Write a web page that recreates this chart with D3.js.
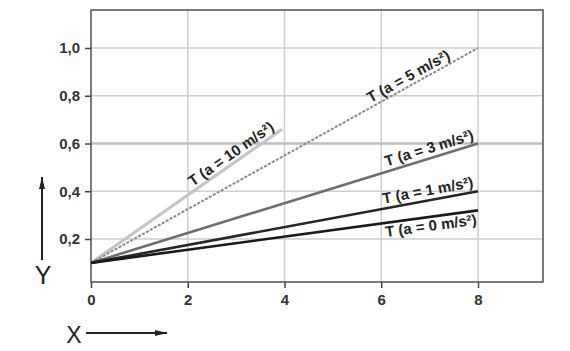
<!DOCTYPE html>
<html>
<head>
<meta charset="utf-8">
<script src="https://cdn.jsdelivr.net/npm/d3@7"></script>
<style>
  body { margin: 0; background: #fff; }
  text { font-family: "Liberation Sans", Arial, sans-serif; }
</style>
</head>
<body>
<div id="chart"></div>
<script>
var width = 570, height = 351;

// data
var labels = ["T (a = 10 m/s²)", "T (a = 5 m/s²)", "T (a = 3 m/s²)", "T (a = 1 m/s²)", "T (a = 0 m/s²)"];
var startX = [0, 0, 0, 0, 0];
var startY = [0.1, 0.1, 0.1, 0.1, 0.1];
var endX = [3.95, 8, 8, 8, 8];
var endY = [0.66, 1.0, 0.6, 0.4, 0.32];
var xTicks = [0, 2, 4, 6, 8];
var yTicks = [0.2, 0.4, 0.6, 0.8, 1.0];

var colors = ["#c4c4c4", "#8a8a8a", "#6e6e6e", "#262626", "#1a1a1a"];
var widths = [3, 2, 2.6, 2.6, 2.6];
var dashes = [null, "3,1.5", null, null, null];
var labelAt = [3.0, 6.65, 7.05, 7.0, 7.0];
var labelOff = [-4, -4, -5, -5, 14];

var x = d3.scaleLinear().domain([0, 8]).range([91, 478]);
var y = d3.scaleLinear().domain([0, 1]).range([286.75, 48]);

var svg = d3.select("#chart").append("svg")
    .attr("width", width)
    .attr("height", height);

var pLeft = 91, pRight = 543, pTop = 10, pBottom = 282;

// grid
svg.selectAll(".gx")
  .data(xTicks.filter(function(d) { return d > 0; }))
  .enter().append("line")
    .attr("x1", function(d) { return x(d); })
    .attr("x2", function(d) { return x(d); })
    .attr("y1", pTop).attr("y2", pBottom)
    .attr("stroke", "#cfcfcf").attr("stroke-width", 1.5);

svg.selectAll(".gy")
  .data(yTicks)
  .enter().append("line")
    .attr("x1", pLeft).attr("x2", pRight)
    .attr("y1", function(d) { return y(d); })
    .attr("y2", function(d) { return y(d); })
    .attr("stroke", function(d) { return d == 0.6 ? "#bdbdbd" : "#cfcfcf"; })
    .attr("stroke-width", function(d) { return d == 0.6 ? 2.5 : 1.5; });

// frame
svg.append("rect")
  .attr("x", pLeft).attr("y", pTop)
  .attr("width", pRight - pLeft).attr("height", pBottom - pTop)
  .attr("fill", "none").attr("stroke", "#5a5a5a").attr("stroke-width", 1.6);

// axes
var yAxis = svg.append("g")
  .attr("transform", "translate(" + pLeft + ",0)")
  .call(d3.axisLeft(y).tickValues(yTicks).tickSize(6).tickPadding(5)
    .tickFormat(function(d) { return d3.format(".1f")(d).replace(".", ","); }));
yAxis.select(".domain").remove();

var xAxis = svg.append("g")
  .attr("transform", "translate(0," + pBottom + ")")
  .call(d3.axisBottom(x).tickValues(xTicks).tickSize(6).tickPadding(6)
    .tickFormat(d3.format("d")));
xAxis.select(".domain").remove();

svg.selectAll(".tick line").attr("stroke", "#444").attr("stroke-width", 1.5);
svg.selectAll(".tick text")
  .attr("fill", "#333")
  .style("font-size", "15px")
  .style("font-weight", "bold")
  .style("font-family", "Liberation Sans, Arial, sans-serif");

// lines
var idx = d3.range(labels.length);
svg.selectAll(".series")
  .data(idx)
  .enter().append("line")
    .attr("x1", function(i) { return x(startX[i]); })
    .attr("y1", function(i) { return y(startY[i]); })
    .attr("x2", function(i) { return x(endX[i]); })
    .attr("y2", function(i) { return y(endY[i]); })
    .attr("stroke", function(i) { return colors[i]; })
    .attr("stroke-width", function(i) { return widths[i]; })
    .attr("stroke-dasharray", function(i) { return dashes[i]; });

// labels along lines
svg.selectAll(".lbl")
  .data(idx)
  .enter().append("text")
    .attr("transform", function(i) {
      var slope = (endY[i] - startY[i]) / (endX[i] - startX[i]);
      var lx = x(labelAt[i]);
      var ly = y(startY[i] + slope * (labelAt[i] - startX[i]));
      var ang = Math.atan2(y(endY[i]) - y(startY[i]), x(endX[i]) - x(startX[i])) * 180 / Math.PI;
      return "translate(" + lx + "," + ly + ") rotate(" + ang + ") translate(0," + labelOff[i] + ")";
    })
    .attr("text-anchor", "middle")
    .attr("fill", "#222")
    .style("font-size", "15px")
    .style("font-weight", "bold")
    .text(function(i) { return labels[i]; });

// axis names with arrows
svg.append("defs").append("marker")
  .attr("id", "arr").attr("viewBox", "0 0 12 6")
  .attr("refX", 12).attr("refY", 3)
  .attr("markerWidth", 12).attr("markerHeight", 6)
  .attr("markerUnits", "userSpaceOnUse")
  .attr("orient", "auto")
  .append("path").attr("d", "M0,0 L12,3 L0,6 Z").attr("fill", "#222");

svg.append("line")
  .attr("x1", 42).attr("y1", 260).attr("x2", 42).attr("y2", 177)
  .attr("stroke", "#222").attr("stroke-width", 2).attr("marker-end", "url(#arr)");
svg.append("text")
  .attr("x", 43).attr("y", 284).attr("text-anchor", "middle")
  .attr("fill", "#222").style("font-size", "25px").text("Y");

svg.append("line")
  .attr("x1", 86).attr("y1", 333).attr("x2", 167).attr("y2", 333)
  .attr("stroke", "#222").attr("stroke-width", 2).attr("marker-end", "url(#arr)");
svg.append("text")
  .attr("x", 74).attr("y", 343).attr("text-anchor", "middle")
  .attr("fill", "#222").style("font-size", "23px").text("X");
</script>
</body>
</html>
